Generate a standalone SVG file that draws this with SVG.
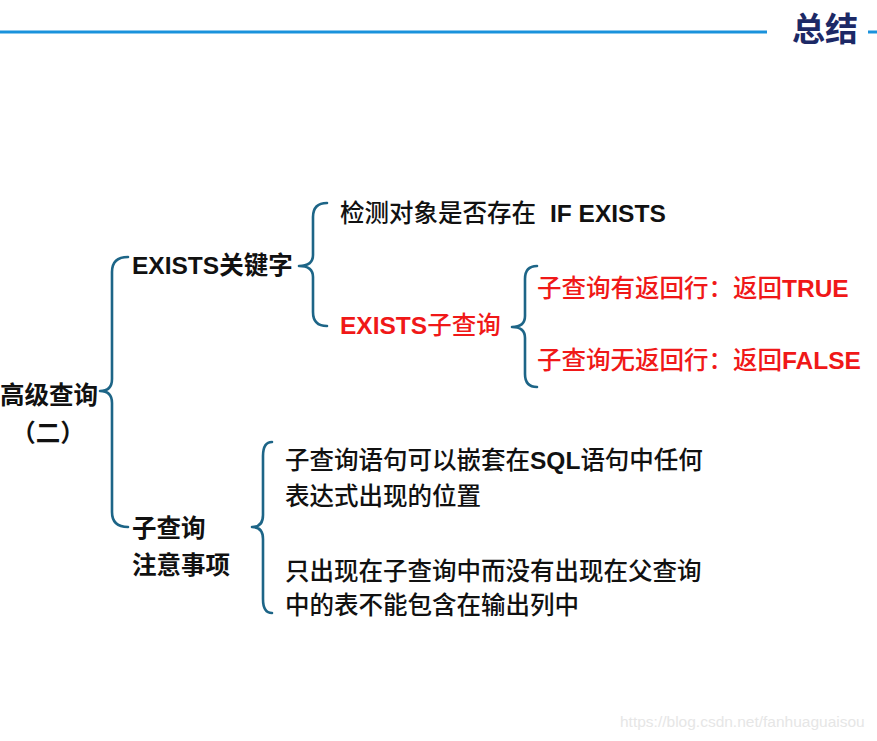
<svg xmlns="http://www.w3.org/2000/svg" width="877" height="741" viewBox="0 0 877 741">
<style>
text{font-family:"Liberation Sans","Noto Sans CJK SC",sans-serif;font-size:24.5px;fill:#111}
.b{font-weight:bold}
.m{font-weight:500}
.red{fill:#f01818}
.brace{fill:none;stroke:#1d6587;stroke-width:2.6;stroke-linecap:round;stroke-linejoin:round}
.hdr{fill:none;stroke:#1a92dc;stroke-width:3}
</style>
<rect width="877" height="741" fill="#ffffff"/>
<g id="header">
<line class="hdr" x1="0" y1="32" x2="767" y2="32"/>
<line class="hdr" x1="868" y1="32" x2="877" y2="32"/>
<text x="792" y="41" class="b" style="font-size:33px;fill:#1c2966">总结</text>
</g>
<g id="connectors">
<path class="brace" d="M128 257 Q112 257 112 272 L112 379 Q112 391 100 391 Q112 391 112 403 L112 512 Q112 527 128 527"/>
<path class="brace" d="M327 203 Q313 203 313 217 L313 255 Q313 266 299 266 Q313 266 313 277 L313 312 Q313 326 327 326"/>
<path class="brace" d="M537 266 Q525 266 525 279 L525 316 Q525 327 512 327 Q525 327 525 338 L525 374 Q525 387 537 387"/>
<path class="brace" d="M272 442 Q263 442 263 456 L263 515 Q263 527 252 527 Q263 527 263 539 L263 599 Q263 613 272 613"/>
</g>
<g id="root">
<text x="0" y="404" class="b">高级查询</text>
<text x="48" y="442" class="b" text-anchor="middle">（二）</text>
</g>
<g id="exists-keyword">
<text x="132" y="274" class="b">EXISTS关键字</text>
</g>
<g id="check-object">
<text x="340" y="222" class="m">检测对象是否存在<tspan class="b" dx="14">IF EXISTS</tspan></text>
</g>
<g id="exists-subquery">
<text x="340" y="334" class="red"><tspan class="b red">EXISTS</tspan><tspan class="m red">子查询</tspan></text>
</g>
<g id="true-case">
<text x="537" y="297" class="red m">子查询有返回行：返回<tspan class="b red">TRUE</tspan></text>
</g>
<g id="false-case">
<text x="537" y="369" class="red m">子查询无返回行：返回<tspan class="b red">FALSE</tspan></text>
</g>
<g id="subquery-notes">
<text x="132" y="537" class="b">子查询</text>
<text x="132" y="574" class="b">注意事项</text>
</g>
<g id="note-1">
<text x="285" y="469" class="m">子查询语句可以嵌套在<tspan class="b">SQL</tspan>语句中任何</text>
<text x="285" y="505" class="m">表达式出现的位置</text>
</g>
<g id="note-2">
<text x="285" y="580" class="m">只出现在子查询中而没有出现在父查询</text>
<text x="285" y="614" class="m">中的表不能包含在输出列中</text>
</g>
<g id="watermark">
<text x="620" y="727" style="font-size:15.5px;fill:#e6e6e6;font-family:'Liberation Sans',sans-serif">https://blog.csdn.net/fanhuaguaisou</text>
</g>
</svg>
